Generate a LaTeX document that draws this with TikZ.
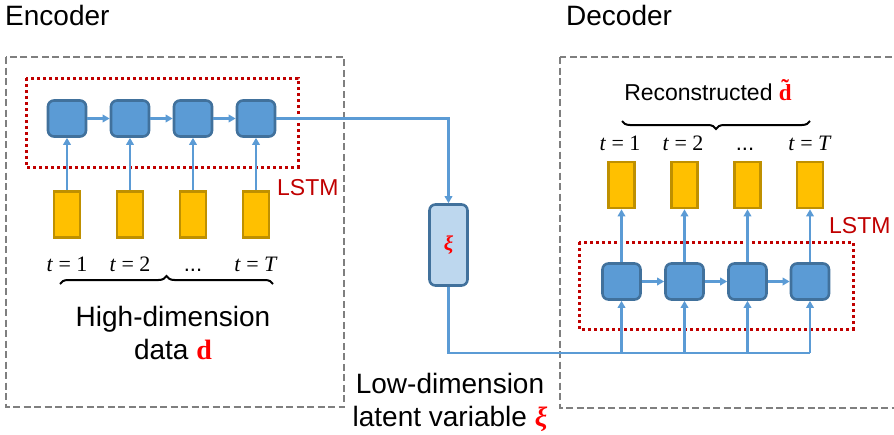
\documentclass[tikz,border=0pt]{standalone}
\usepackage{fontspec}
\setmainfont{Liberation Sans}
\newfontfamily\mserif{Liberation Serif}
\usetikzlibrary{arrows.meta,decorations.pathreplacing,calc}
\definecolor{cellblue}{HTML}{5B9BD5}
\definecolor{celledge}{HTML}{41719C}
\definecolor{ylw}{HTML}{FFC000}
\definecolor{ylwedge}{HTML}{BF9000}
\definecolor{lstmred}{HTML}{C00000}
\definecolor{boxgray}{HTML}{7F7F7F}
\definecolor{latentfill}{HTML}{BDD7EE}
\newcommand{\tlab}[1]{{\mserif\textit{t} = #1}}
\begin{document}
\begin{tikzpicture}[x=1pt,y=-1pt,
  cell/.style={draw=celledge,fill=cellblue,line width=2.6pt,rounded corners=6pt,minimum width=38pt,minimum height=36pt,inner sep=0pt},
  ybox/.style={draw=ylwedge,fill=ylw,line width=2.6pt,minimum width=26pt,minimum height=46pt,inner sep=0pt},
  latent/.style={draw=celledge,fill=latentfill,line width=2.6pt,rounded corners=6pt,minimum width=38pt,minimum height=81pt,inner sep=0pt},
  conn/.style={draw=cellblue,line width=2.7pt,-{Triangle[length=7pt,width=7.5pt]}},
  line/.style={draw=cellblue,line width=2.7pt},
  outer/.style={draw=boxgray,line width=2.8pt,dash pattern=on 7pt off 3.5pt},
  lstmbox/.style={draw=lstmred,line width=3pt,dash pattern=on 3pt off 3pt},
  title/.style={font=\fontsize{28}{32}\selectfont,inner sep=0pt},
  lstmlbl/.style={font=\fontsize{23}{26}\selectfont,text=lstmred,inner sep=0pt},
  tlbl/.style={font=\fontsize{22}{24}\selectfont,inner sep=0pt,anchor=base},
  bigtxt/.style={font=\fontsize{28}{33}\selectfont,align=center,inner sep=0pt},
  brc/.style={draw=black,line width=2pt,decorate,decoration={brace,amplitude=8pt}}
]
\useasboundingbox (0,0) rectangle (894,434);

% titles
\node[title,anchor=base west] (enct) at (5,25) {Encoder};
\node[title,anchor=base west] (dect) at (566,25) {Decoder};

% outer boxes
\draw[outer] (6,57) rectangle (344,407);
\draw[outer] (560,57) rectangle (905,408);

% ---------------- Encoder ----------------
\draw[lstmbox] (26,78) rectangle (298,167);
\foreach \i/\x in {1/67,2/130,3/193,4/256}{
  \node[cell] (e\i) at (\x,118.5) {};
  \node[ybox] (ey\i) at (\x,214.5) {};
  \draw[conn] (ey\i.north) -- (e\i.south);
}
\draw[conn] (e1.east) -- (e2.west);
\draw[conn] (e2.east) -- (e3.west);
\draw[conn] (e3.east) -- (e4.west);
\node[lstmlbl,anchor=base west] (elstm) at (277,195) {LSTM};

\node[tlbl] (et1) at (67,271) {\tlab{1}};
\node[tlbl] (et2) at (130,271) {\tlab{2}};
\node[tlbl] (et3) at (193,271) {...};
\node[tlbl] (et4) at (256,271) {\tlab{\textit{T}}};
\draw[brc] (60,284) -- (273,284);
\node[bigtxt,anchor=base] (hd) at (173,359) {High-dimension\\data \textcolor{red}{\mserif\bfseries d}};

% ---------------- Latent ----------------
\node[latent] (xi) at (448.5,245) {\fontsize{21}{22}\selectfont\textcolor{red}{\mserif\bfseries\itshape ξ}};
\draw[conn] (e4.east) -| (xi.north);
\node[bigtxt,anchor=base] (ld) at (450,426) {Low-dimension\\latent variable \textcolor{red}{\mserif\bfseries\itshape ξ}};

% ---------------- Decoder ----------------
\draw[lstmbox] (579,242) rectangle (853,329);
\foreach \i/\x in {1/621.5,2/684.5,3/747.5,4/810}{
  \node[cell] (d\i) at (\x,281.5) {};
  \node[ybox] (dy\i) at (\x,185) {};
  \draw[conn] (d\i.north) -- (dy\i.south);
  \coordinate (j\i) at (\x,353);
  \draw[conn] (j\i) -- (d\i.south);
}
\draw[conn] (d1.east) -- (d2.west);
\draw[conn] (d2.east) -- (d3.west);
\draw[conn] (d3.east) -- (d4.west);
\draw[line] (xi.south) |- (j4);
\node[lstmlbl,anchor=base west] (dlstm) at (829,233) {LSTM};

\node[tlbl] (dt1) at (620,150) {\tlab{1}};
\node[tlbl] (dt2) at (683,150) {\tlab{2}};
\node[tlbl] (dt3) at (745,150) {...};
\node[tlbl] (dt4) at (810,150) {\tlab{\textit{T}}};
\draw[brc,decoration={mirror}] (622,121) -- (810,121);
\node[font=\fontsize{23}{26}\selectfont,anchor=base,inner sep=0pt] (rec) at (708,100) {Reconstructed \textcolor{red}{\mserif\bfseries d̃}};
\end{tikzpicture}
\end{document}
